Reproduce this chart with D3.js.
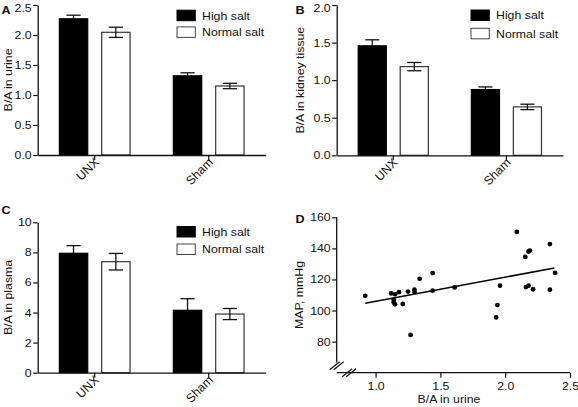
<!DOCTYPE html>
<html><head><meta charset="utf-8">
<script src="https://cdn.jsdelivr.net/npm/d3@7"></script>
<style>
body{margin:0;background:#fff;}
svg text{font-family:"Liberation Sans",Arial,Helvetica,sans-serif;fill:#111;}
</style></head>
<body><svg id="c" width="578" height="407"></svg>
<script>
// ---- data ----
const groups = ["UNX", "Sham"];
const seriesNames = ["High salt", "Normal salt"];

const urineHigh = [2.27, 1.32];
const urineHighErr = [0.06, 0.05];
const urineNormal = [2.045, 1.15];
const urineNormalErr = [0.085, 0.045];

const kidneyHigh = [1.457, 0.875];
const kidneyHighErr = [0.08, 0.035];
const kidneyNormal = [1.18, 0.644];
const kidneyNormalErr = [0.055, 0.036];

const plasmaHigh = [7.94, 4.15];
const plasmaHighErr = [0.51, 0.77];
const plasmaNormal = [7.38, 3.9];
const plasmaNormalErr = [0.55, 0.37];

const urineTicks = [0, 0.5, 1.0, 1.5, 2.0, 2.5];
const kidneyTicks = [0, 0.5, 1.0, 1.5, 2.0];
const plasmaTicks = [0, 2, 4, 6, 8, 10];

const scatterX = [0.92,1.12,1.15,1.18,1.14,1.14,1.15,1.21,1.25,1.30,1.30,1.34,1.27,1.44,1.44,1.61,1.94,1.93,1.96,2.09,2.155,2.18,2.19,2.16,2.18,2.215,2.345,2.345,2.385];
const scatterY = [109.5,111,110.5,111.8,107,105.3,104,104.2,112.2,113.4,112,120.4,84.3,124.1,112.8,114.9,103.5,95.6,116,150.6,134.5,138,138.6,115.1,116,113.7,142.8,113.4,124.2];
const fitX = [0.92, 2.38];
const fitY = [104.7, 127.4];
const mapTicks = [80, 100, 120, 140, 160];
const baTicks = [1.0, 1.5, 2.0, 2.5];

// ---- drawing ----
const svg = d3.select("#c");
const FONT = 10.8;
const WIDEN = 1.14;
const FAM = '"Liberation Sans",Arial,sans-serif';

function widen(sel) {
  sel.each(function () {
    const L = this.getComputedTextLength();
    if (L > 0) {
      this.setAttribute("textLength", (L * WIDEN).toFixed(2));
      this.setAttribute("lengthAdjust", "spacingAndGlyphs");
    }
  });
}

function barPanel(o) {
  const g = svg.append("g");
  const y = d3.scaleLinear().domain(o.yDomain).range([o.bottom, o.top]);
  const x0 = d3.scaleBand().domain(groups).range([o.left, o.right]).padding(0);
  const inner = x0.bandwidth();
  const x1 = d3.scaleBand().domain(seriesNames)
    .range([inner * 0.19, inner * 0.81]).paddingInner(0.33);
  const data = [];
  groups.forEach((gname, i) => {
    data.push({g: gname, s: seriesNames[0], v: o.high[i], e: o.highErr[i]});
    data.push({g: gname, s: seriesNames[1], v: o.normal[i], e: o.normalErr[i]});
  });
  const bw = x1.bandwidth();
  const cap = bw * 0.5;
  data.forEach(d => {
    const cx = x0(d.g) + x1(d.s) + bw / 2;
    const lo = d.s === seriesNames[0] ? d.v : d.v - d.e;
    g.append("line").attr("x1", cx).attr("x2", cx)
      .attr("y1", y(d.v + d.e)).attr("y2", y(lo))
      .attr("stroke", "#111").attr("stroke-width", 1.3);
    g.append("line").attr("x1", cx - cap / 2).attr("x2", cx + cap / 2)
      .attr("y1", y(d.v + d.e)).attr("y2", y(d.v + d.e))
      .attr("stroke", "#111").attr("stroke-width", 1.3);
  });
  g.selectAll("rect.bar").data(data).join("rect").attr("class", "bar")
    .attr("x", d => x0(d.g) + x1(d.s))
    .attr("width", bw)
    .attr("y", d => y(d.v))
    .attr("height", d => y(0) - y(d.v))
    .attr("fill", d => d.s === seriesNames[0] ? "#000" : "#fff")
    .attr("stroke", d => d.s === seriesNames[0] ? "#000" : "#333")
    .attr("stroke-width", 1.2);
  data.filter(d => d.s === seriesNames[1]).forEach(d => {
    const cx = x0(d.g) + x1(d.s) + bw / 2;
    g.append("line").attr("x1", cx).attr("x2", cx)
      .attr("y1", y(d.v)).attr("y2", y(d.v - d.e))
      .attr("stroke", "#111").attr("stroke-width", 1.3);
    g.append("line").attr("x1", cx - cap / 2).attr("x2", cx + cap / 2)
      .attr("y1", y(d.v - d.e)).attr("y2", y(d.v - d.e))
      .attr("stroke", "#111").attr("stroke-width", 1.3);
  });
  const ya = g.append("g").attr("transform", `translate(${o.left},0)`)
    .call(d3.axisLeft(y).tickValues(o.ticks).tickFormat(d3.format(o.fmt)).tickSize(4.5).tickSizeOuter(0));
  const xa = g.append("g").attr("transform", `translate(0,${o.bottom})`)
    .call(d3.axisBottom(x0).tickSize(5).tickSizeOuter(0).tickFormat(""));
  [ya, xa].forEach(a => {
    a.select(".domain").attr("stroke", "#111").attr("stroke-width", 1.3);
    a.selectAll(".tick line").attr("stroke", "#111").attr("stroke-width", 1.2);
    a.selectAll("text").style("font-size", FONT + "px").attr("fill", "#111").style("font-family", FAM);
  });
  ya.selectAll("text").attr("x", -6);
  ya.selectAll(".tick text").filter(d => d === o.yDomain[1] && o.top < 10).attr("dy", "0.58em");
  widen(ya.selectAll("text"));
  groups.forEach(gname => {
    const px = x0(gname) + inner / 2 + 5;
    const py = o.bottom + 8;
    g.append("text")
      .attr("x", px).attr("y", py)
      .attr("transform", `rotate(-45 ${px} ${py})`)
      .attr("text-anchor", "end")
      .style("font-size", "12.3px").text(gname);
  });
  widen(g.append("text").attr("transform", `translate(${o.titleX},${(o.top + o.bottom) / 2}) rotate(-90)`)
    .attr("text-anchor", "middle").style("font-size", FONT + "px").text(o.title));
  widen(g.append("text").attr("x", o.letterX).attr("y", o.letterY)
    .style("font-size", "11px").style("font-weight", "bold").text(o.letter));
  seriesNames.forEach((s, i) => {
    const yy = o.legY + i * o.legGap;
    g.append("rect").attr("x", o.legX).attr("y", yy).attr("width", 18.3).attr("height", 10.5)
      .attr("fill", i === 0 ? "#000" : "#fff").attr("stroke", i === 0 ? "#000" : "#444").attr("stroke-width", 1);
    widen(g.append("text").attr("x", o.legX + 25).attr("y", yy + 9.3)
      .style("font-size", FONT + "px").text(s));
  });
}

barPanel({left: 37.7, right: 265.7, top: 5, bottom: 155, yDomain: [0, 2.5], ticks: urineTicks, fmt: ".1f",
  high: urineHigh, highErr: urineHighErr, normal: urineNormal, normalErr: urineNormalErr,
  title: "B/A in urine", titleX: 11.5, letter: "A", letterX: 1.5, letterY: 14,
  legX: 177, legY: 10.2, legGap: 16.7});
barPanel({left: 336.7, right: 563, top: 5, bottom: 155.3, yDomain: [0, 2.0], ticks: kidneyTicks, fmt: ".1f",
  high: kidneyHigh, highErr: kidneyHighErr, normal: kidneyNormal, normalErr: kidneyNormalErr,
  title: "B/A in kidney tissue", titleX: 304, letter: "B", letterX: 295.5, letterY: 14,
  legX: 471, legY: 10, legGap: 18.3});
barPanel({left: 37.7, right: 265.7, top: 222.3, bottom: 372.7, yDomain: [0, 10], ticks: plasmaTicks, fmt: "d",
  high: plasmaHigh, highErr: plasmaHighErr, normal: plasmaNormal, normalErr: plasmaNormalErr,
  title: "B/A in plasma", titleX: 11.5, letter: "C", letterX: 1.5, letterY: 214,
  legX: 177, legY: 226.5, legGap: 17.5});

// ---- panel D scatter ----
(function () {
  const L = 336.7, R = 570, T = 217.3, B = 372.7;
  const g = svg.append("g");
  const x = d3.scaleLinear().domain([0.7, 2.5]).range([L, R]);
  const y = d3.scaleLinear().domain([60, 160]).range([B, T]);
  const ya = g.append("g").attr("transform", `translate(${L},0)`)
    .call(d3.axisLeft(y).tickValues(mapTicks).tickFormat(d3.format("d")).tickSize(4.5).tickSizeOuter(0));
  ya.select(".domain").remove();
  g.append("line").attr("x1", L).attr("x2", L).attr("y1", y(160)).attr("y2", y(66.5))
    .attr("stroke", "#111").attr("stroke-width", 1.3);
  const xa = g.append("g").attr("transform", `translate(0,${B})`)
    .call(d3.axisBottom(x).tickValues(baTicks).tickFormat(d3.format(".1f")).tickSize(5).tickSizeOuter(0));
  xa.select(".domain").remove();
  g.append("line").attr("x1", L).attr("x2", x(2.5)).attr("y1", B).attr("y2", B)
    .attr("stroke", "#111").attr("stroke-width", 1.3);
  [ya, xa].forEach(a => {
    a.selectAll(".tick line").attr("stroke", "#111").attr("stroke-width", 1.2);
    a.selectAll("text").style("font-size", FONT + "px").attr("fill", "#111").style("font-family", FAM);
  });
  ya.selectAll("text").attr("x", -6);
  xa.selectAll("text").attr("y", 9.5);
  widen(ya.selectAll("text"));
  widen(xa.selectAll("text"));
  const brk = [[L, y(64.5)], [L + 12.5, B]];
  brk.forEach(([cx, cy]) => {
    [-2, 2].forEach(off => {
      g.append("line").attr("x1", cx + off - 5).attr("y1", cy + 4)
        .attr("x2", cx + off + 5).attr("y2", cy - 4)
        .attr("stroke", "#111").attr("stroke-width", 1.2);
    });
  });
  const pts = scatterX.map((v, i) => [v, scatterY[i]]);
  g.selectAll("circle").data(pts).join("circle")
    .attr("cx", d => x(d[0])).attr("cy", d => y(d[1])).attr("r", 2.4).attr("fill", "#000");
  g.append("line").attr("x1", x(fitX[0])).attr("y1", y(fitY[0]))
    .attr("x2", x(fitX[1])).attr("y2", y(fitY[1]))
    .attr("stroke", "#000").attr("stroke-width", 1.6);
  widen(g.append("text").attr("transform", `translate(302.5,${(T + B) / 2}) rotate(-90)`)
    .attr("text-anchor", "middle").style("font-size", FONT + "px").text("MAP, mmHg"));
  widen(g.append("text").attr("x", 449).attr("y", 402.5).attr("text-anchor", "middle")
    .style("font-size", FONT + "px").text("B/A in urine"));
  widen(g.append("text").attr("x", 295.5).attr("y", 222.5)
    .style("font-size", "11px").style("font-weight", "bold").text("D"));
})();
</script></body></html>
